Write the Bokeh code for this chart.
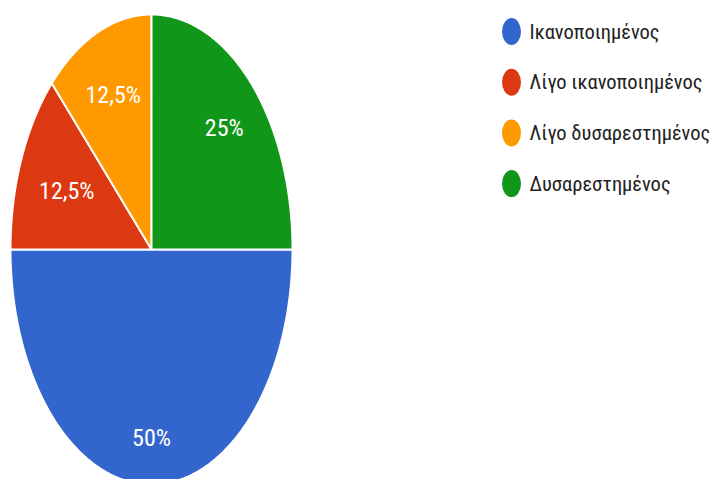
import numpy as np
from bokeh.plotting import figure
from bokeh.models import Range1d, ColumnDataSource
from bokeh.core.properties import value
from bokeh.embed import file_html
from bokeh.resources import INLINE

# ---- data ----
categories = ["Ικανοποιημένος", "Λίγο ικανοποιημένος", "Λίγο δυσαρεστημένος", "Δυσαρεστημένος"]
shares = [50.0, 12.5, 12.5, 25.0]
labels = ["50%", "12,5%", "12,5%", "25%"]
colors = ["#3366cc", "#dc3912", "#ff9900", "#109618"]

# ---- layout ----
W, H = 712, 479
CX, CY = 151, 249          # pie centre (screen-like units)
RX, RY = 141, 235          # elliptical radii
START = 0.0                # first slice starts at 3 o'clock, going clockwise
LABEL_R = [0.80, 0.65, 0.71, 0.73]
FONT = "Roboto Condensed"

p = figure(width=W, height=H, output_backend="svg", toolbar_location=None,
           x_range=Range1d(0, W), y_range=Range1d(H, 0),
           min_border=0, outline_line_color=None)
p.axis.visible = False
p.grid.visible = False
p.background_fill_color = "white"
p.border_fill_color = "white"

total = sum(shares)
xs, ys, lx, ly = [], [], [], []
a0 = START
for s, lr in zip(shares, LABEL_R):
    sweep = 2 * np.pi * s / total
    a1 = a0 - sweep
    t = np.linspace(a0, a1, 200)
    px = np.concatenate([[CX], CX + RX * np.cos(t), [CX]])
    py = np.concatenate([[CY], CY - RY * np.sin(t), [CY]])
    xs.append(list(px)); ys.append(list(py))
    mid = (a0 + a1) / 2
    lx.append(CX + lr * RX * np.cos(mid))
    ly.append(CY - lr * RY * np.sin(mid))
    a0 = a1

src = ColumnDataSource(dict(xs=xs, ys=ys, color=colors, lx=lx, ly=ly, label=labels))
p.patches("xs", "ys", source=src, fill_color="color", line_color="white", line_width=2)
p.text("lx", "ly", text="label", source=src, text_color="white",
       text_font=value(FONT), text_font_size="24px",
       text_align="center", text_baseline="middle")

# ---- legend (manual) ----
LEG_X, LEG_Y0, LEG_DY = 511, 31, 50.7
leg = ColumnDataSource(dict(
    x=[LEG_X] * len(categories),
    y=[LEG_Y0 + i * LEG_DY for i in range(len(categories))],
    tx=[LEG_X + 18] * len(categories),
    color=colors, name=categories))
p.ellipse("x", "y", width=19, height=27, source=leg, fill_color="color", line_color=None)
p.text("tx", "y", text="name", source=leg, text_color="#222222",
       text_font=value(FONT), text_font_size="20.5px",
       text_align="left", text_baseline="middle")

open("out.html", "w").write(file_html(p, INLINE))
